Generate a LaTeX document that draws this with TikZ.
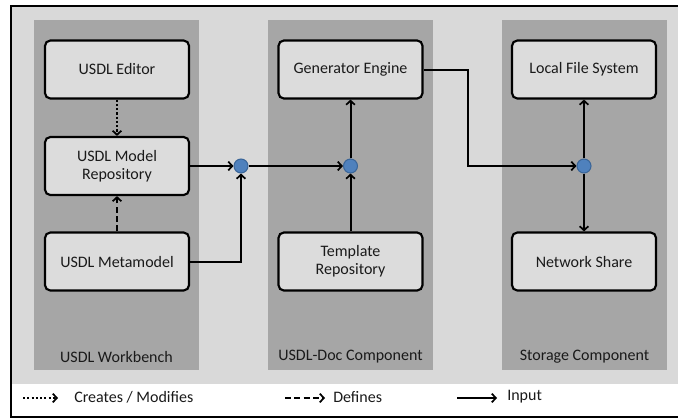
\documentclass[tikz,border=0pt]{standalone}
\usepackage{fontspec}
\setmainfont{Carlito}
\usetikzlibrary{arrows.meta}
\definecolor{paneback}{HTML}{D9D9D9}
\definecolor{columnback}{HTML}{A6A6A6}
\definecolor{boxfill}{HTML}{DCDCDC}
\definecolor{dotfill}{HTML}{4F81BD}
\definecolor{dotline}{HTML}{3A6598}
\definecolor{inktext}{HTML}{1A1A1A}
\tikzset{
  x=0.75pt, y=-0.75pt,
  every node/.style={font=\fontsize{12}{13.5}\selectfont, text=inktext},
  compbox/.style={draw=black, fill=boxfill, line width=1.6pt, rounded corners=4pt,
    minimum width=108pt, minimum height=43.5pt, align=center, inner sep=0pt},
  junction/.style={circle, fill=dotfill, draw=dotline, line width=0.8pt,
    minimum size=10.5pt, inner sep=0pt},
  tip/.style={-{Straight Barb[length=3pt,width=6.5pt,line width=1.3pt]}},
  flow/.style={tip, line width=1.5pt, draw=black},
  creates/.style={flow, dash pattern=on 1.6pt off 1.6pt},
  defines/.style={flow, dash pattern=on 4.5pt off 2.5pt},
  colname/.style={anchor=center},
  legendtext/.style={anchor=west, inner sep=0pt}
}
\begin{document}
\begin{tikzpicture}
\useasboundingbox (0,0) rectangle (678,418);
% panel background and legend strip
\fill[white] (0,0) rectangle (678,418);
\fill[paneback] (11,6) rectangle (678,384);
\draw[line width=1pt] (678,6) -- (11,6) -- (11,417) -- (678,417);

% component columns
\fill[columnback] (34,20) rectangle (199,370);
\fill[columnback] (268,20) rectangle (433,370);
\fill[columnback] (502,20) rectangle (667,370);
\node[colname] (wb)  at (116.5,357) {USDL Workbench};
\node[colname] (doc) at (350.5,357) {USDL-Doc Component};
\node[colname] (sto) at (584.5,357) {Storage Component};

% components
\node[compbox] (editor) at (117,69.5)  {USDL Editor};
\node[compbox] (repo)   at (117,166)   {USDL Model\\Repository};
\node[compbox] (meta)   at (117,261.5) {USDL Metamodel};
\node[compbox] (gen)    at (350.5,69.5)  {Generator Engine};
\node[compbox] (tmpl)   at (350.5,261.5) {Template\\Repository};
\node[compbox] (lfs)    at (584,69.5)  {Local File System};
\node[compbox] (net)    at (584,261.5) {Network Share};

% junction points
\node[junction] (j1) at (241,166) {};
\node[junction] (j2) at (350.5,166) {};
\node[junction] (j3) at (584,166) {};
\coordinate (bend) at (468,69.5);

% relations inside the workbench
\draw[creates] (editor) -- (repo);
\draw[defines] (meta) -- (repo);

% data flow
\draw[flow] (repo.east) -- (j1.west);
\draw[flow] (meta.east) -| (j1.south);
\draw[flow] (j1.east) -- (j2.west);
\draw[flow] (tmpl.north) -- (j2.south);
\draw[flow] (j2.north) -- (gen.south);
\draw[flow] (gen.east) -- (bend) |- (j3.west);
\draw[flow] (j3.north) -- (lfs.south);
\draw[flow] (j3.south) -- (net.north);

% legend
\coordinate (c1) at (23,398);  \coordinate (c2) at (58,398);
\coordinate (d1) at (285,398); \coordinate (d2) at (325,398);
\coordinate (i1) at (457,398); \coordinate (i2) at (497,398);
\draw[creates] (c1) -- (c2);
\draw[defines] (d1) -- (d2);
\draw[flow] (i1) -- (i2);
\node[legendtext] (lc) at (74,397)  {Creates / Modifies};
\node[legendtext] (ld) at (333,397) {Defines};
\node[legendtext] (li) at (507,397) {Input};
\end{tikzpicture}
\end{document}
